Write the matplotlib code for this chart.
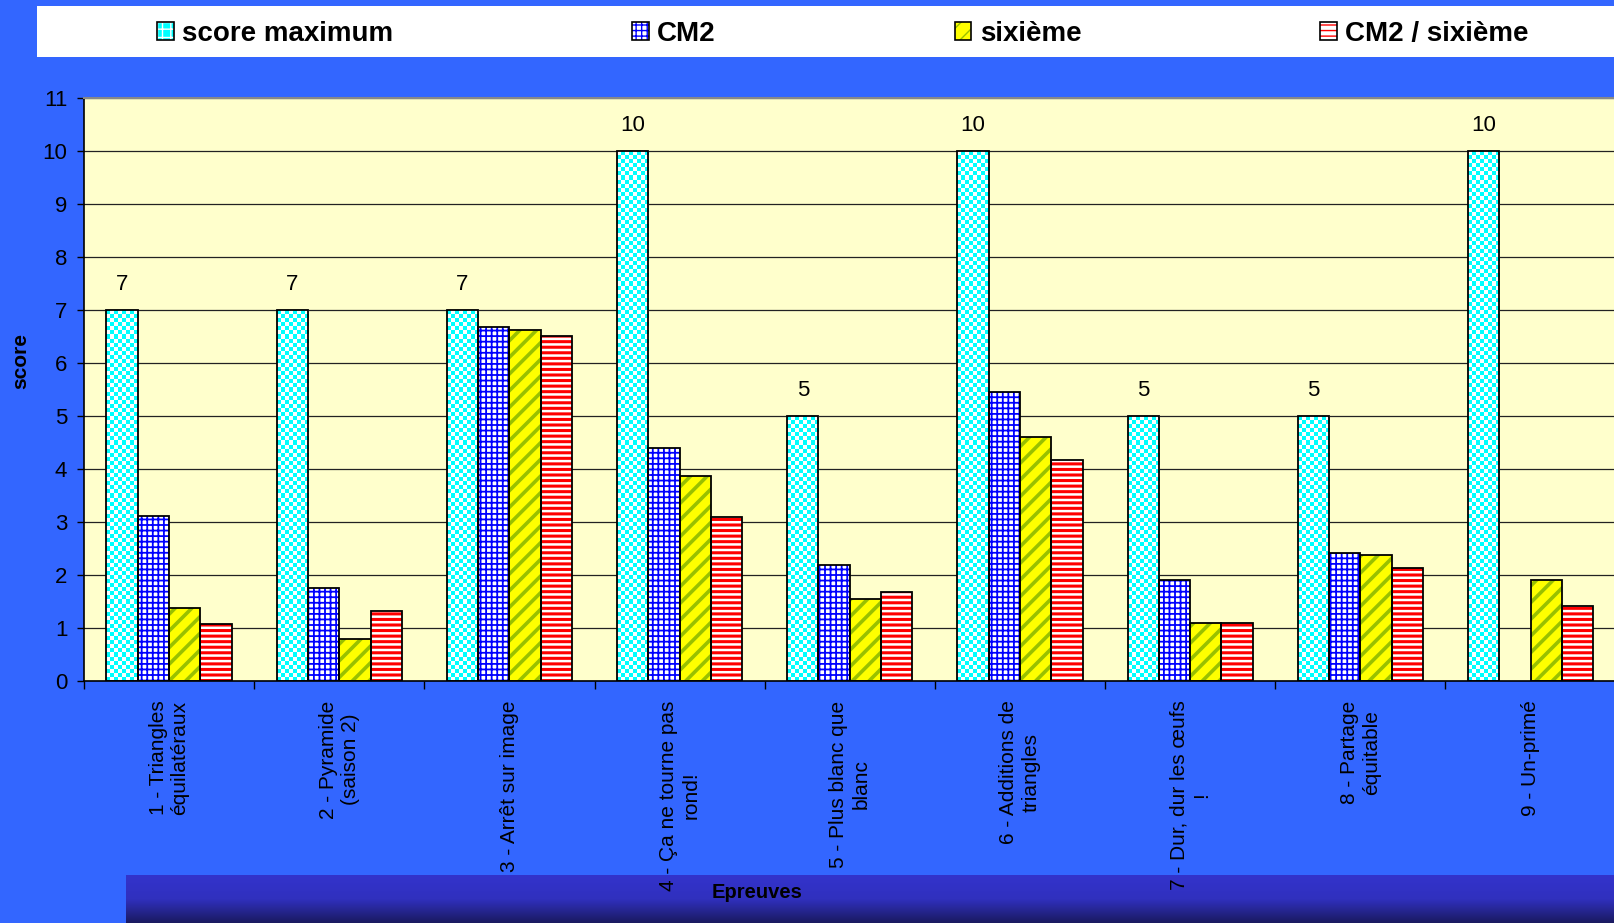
import numpy as np
import matplotlib
matplotlib.use('Agg')
import matplotlib.pyplot as plt
from matplotlib.colors import ListedColormap, LinearSegmentedColormap
from matplotlib.patches import Rectangle, Patch

plt.rcParams['font.family'] = ['Liberation Sans', 'DejaVu Sans']

categories = ["1 - Triangles\néquilatéraux", "2 - Pyramide\n(saison 2)",
              "3 - Arrêt sur image", "4 - Ça ne tourne pas\nrond!",
              "5 - Plus blanc que\nblanc", "6 - Additions de\ntriangles",
              "7 - Dur, dur les œufs\n!", "8 - Partage\néquitable", "9 - Un-primé"]
score_max = [7, 7, 7, 10, 5, 10, 5, 5, 10]
cm2 = [3.12, 1.75, 6.67, 4.40, 2.19, 5.46, 1.90, 2.41, np.nan]
sixieme = [1.38, 0.80, 6.63, 3.87, 1.55, 4.60, 1.09, 2.37, 1.90]
cm2_sixieme = [1.08, 1.32, 6.51, 3.09, 1.67, 4.17, 1.09, 2.14, 1.42]
series_names = ["score maximum", "CM2", "sixième", "CM2 / sixième"]

W, H = 1614, 923
fig = plt.figure(figsize=(W / 100, H / 100), dpi=100, facecolor='#3366FF')

# white legend strip
fig.patches.append(Rectangle((37 / W, 1 - 57 / H), 1, 51 / H, transform=fig.transFigure,
                             facecolor='white', edgecolor='none', zorder=0))

# dark band at the bottom
band = fig.add_axes([126 / W, 0, 1 - 126 / W, 48 / H], zorder=0)
grad = np.linspace(0, 1, 100).reshape(-1, 1)
band.imshow(grad, aspect='auto', cmap=LinearSegmentedColormap.from_list(
    'band', ['#3333CC', '#3030BE', '#1A1A60']), extent=(0, 1, 0, 1))
band.axis('off')

ax = fig.add_axes([84 / W, 1 - 681 / H, 1.001 - 84 / W, (681 - 98) / H], zorder=1)
ax.set_facecolor('#FFFFCC')

x = np.arange(len(categories))
w = 0.184
offsets = [-1.5 * w, -0.5 * w, 0.5 * w, 1.5 * w]


def set_hlw(patches, lw):
    for p in patches:
        if hasattr(p, 'set_hatch_linewidth'):
            p.set_hatch_linewidth(lw)


# score maximum: checkerboard cyan/white
bars_max = ax.bar(x + offsets[0], score_max, w, color='#00FFFF', linewidth=0, zorder=2)
checker_cmap = ListedColormap(['#00FFFF', 'white'])
for b in bars_max:
    x0, bw, bh = b.get_x(), b.get_width(), b.get_height()
    ny = int(round(bh * 13))
    checker = np.add.outer(np.arange(ny), np.arange(8)) % 2
    im = ax.imshow(checker, extent=(x0, x0 + bw, 0, bh), cmap=checker_cmap,
                   interpolation='nearest', aspect='auto', origin='lower', zorder=2)
    im.set_clip_path(b)

styles = [
    (cm2, 'white', '#0000FF', '+++', 1.3),
    (sixieme, '#FFFF00', '#99C000', '//', 2.6),
    (cm2_sixieme, 'white', '#FF0000', '---', 2.2),
]
hp0 = Patch(facecolor='#00FFFF', edgecolor='white', hatch='++')
handles = [(hp0, Patch(facecolor='none', edgecolor='black', linewidth=1.2))]
for i, (vals, face, hc, hatch, hlw) in enumerate(styles):
    with plt.rc_context({'hatch.linewidth': hlw}):
        bars = ax.bar(x + offsets[i + 1], vals, w, color=face, edgecolor=hc, hatch=hatch,
                      linewidth=0, zorder=2)
        hp = Patch(facecolor=face, edgecolor=hc, hatch=hatch, linewidth=0)
    set_hlw(bars, hlw)
    set_hlw([hp], hlw * 0.6)
    handles.append((hp, Patch(facecolor='none', edgecolor='black', linewidth=1.2)))

for i, vals in enumerate([score_max, cm2, sixieme, cm2_sixieme]):
    ax.bar(x + offsets[i], vals, w, facecolor='none', edgecolor='black',
           linewidth=1.3, zorder=3)

for xi, v in zip(x + offsets[0], score_max):
    ax.annotate(str(v), (xi, v), xytext=(0, 11), textcoords='offset points',
                ha='center', va='bottom', fontsize=16)

ax.set_xlim(-0.5, len(categories) - 0.5)
ax.set_ylim(0, 11)
ax.set_yticks(range(12))
ax.yaxis.grid(True, color='#222222', linewidth=0.9, zorder=0)
ax.set_axisbelow(True)
ax.tick_params(axis='y', length=5, width=1, pad=7, labelsize=16)

ax.set_xticks(x)
ax.set_xticklabels(categories, rotation=90, ha='center', va='top',
                   multialignment='center', fontsize=15)
ax.set_xticks(np.arange(len(categories) + 1) - 0.5, minor=True)
ax.tick_params(axis='x', which='major', length=0, pad=14)
ax.tick_params(axis='x', which='minor', length=5.5, width=1)

ax.spines['right'].set_visible(False)
ax.spines['top'].set_color('#888888')
ax.spines['top'].set_linewidth(1.5)
ax.spines['left'].set_linewidth(1.2)
ax.spines['bottom'].set_linewidth(1.2)

fig.legend(handles, series_names, loc='center', bbox_to_anchor=(843 / W, 1 - 34 / H),
           ncol=4, frameon=False, prop={'weight': 'bold', 'size': 20},
           handlelength=0.6, handleheight=0.6, handletextpad=0.3, columnspacing=8.6)

fig.text(757 / W, 1 - 892 / H, "Epreuves", ha='center', va='center',
         fontsize=14.5, fontweight='bold', zorder=5)
fig.text(21 / W, 1 - 361 / H, "score", ha='center', va='center', rotation=90,
         fontsize=15, fontweight='bold')

fig.savefig('out.png', dpi=100, facecolor=fig.get_facecolor())
